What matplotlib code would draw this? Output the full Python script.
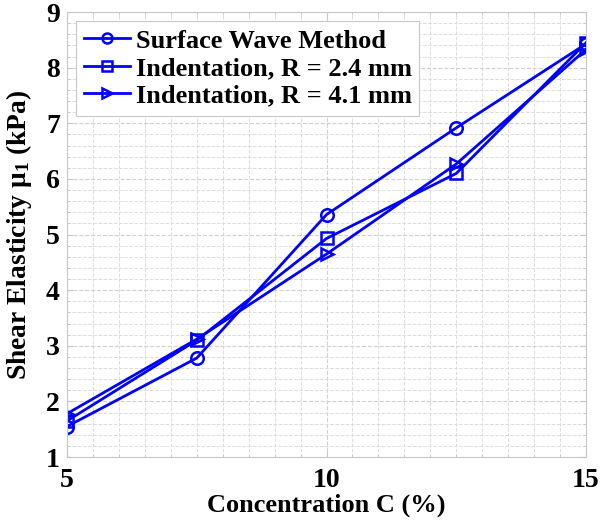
"""
Shear elasticity versus concentration: surface wave method vs indentation.
"""

import matplotlib.pyplot as plt
from matplotlib.ticker import MultipleLocator

concentration = [5, 7.5, 10, 12.5, 15]
surface_wave = [1.55, 2.78, 5.36, 6.92, 8.43]
indent_24 = [1.65, 3.10, 4.93, 6.10, 8.45]
indent_41 = [1.78, 3.12, 4.65, 6.27, 8.33]

plt.rcParams["font.family"] = ["Liberation Serif", "DejaVu Serif"]
plt.rcParams["font.weight"] = "bold"
plt.rcParams["mathtext.fontset"] = "custom"
plt.rcParams["mathtext.rm"] = "Liberation Serif:bold"
plt.rcParams["mathtext.it"] = "Liberation Serif:bold"
plt.rcParams["mathtext.bf"] = "Liberation Serif:bold"

fig = plt.figure(figsize=(6.03, 5.26), dpi=100)
ax = fig.add_axes([0.111, 0.131, 0.861, 0.846])

style = dict(color="#0000ff", linewidth=2, markersize=9,
             markerfacecolor="none", markeredgewidth=1.8)
ax.plot(concentration, surface_wave, marker="o", label="Surface Wave Method", **style)
ax.plot(concentration, indent_24, marker="s", label="Indentation, R = 2.4 mm", **style)
ax.plot(concentration, indent_41, marker=">", label="Indentation, R = 4.1 mm", **style)

ax.set_xlim(5, 15)
ax.set_ylim(1, 9)
ax.set_xticks([5, 10, 15])
ax.xaxis.set_minor_locator(MultipleLocator(0.5))
ax.yaxis.set_major_locator(MultipleLocator(1))
ax.yaxis.set_minor_locator(MultipleLocator(0.2))

ax.grid(True, which="major", color="#d0d0d0", linestyle="--", linewidth=0.8)
ax.grid(True, which="minor", color="#dcdcdc", linestyle="--", linewidth=0.7)
ax.set_axisbelow(True)
for sp in ax.spines.values():
    sp.set_color("#c8c8c8")
ax.tick_params(which="both", direction="in", colors="#c8c8c8",
               labelcolor="black", labelsize=20, top=True, right=True)
ax.tick_params(which="major", length=4)
ax.tick_params(which="minor", length=2)
ax.tick_params(axis="x", which="major", pad=8)
ax.tick_params(axis="y", which="major", pad=5)

ax.set_xlabel("Concentration C (%)", fontsize=19, fontweight="bold", labelpad=0)
ax.set_ylabel("Shear Elasticity μ$_1$ (kPa)", fontsize=19.8, fontweight="bold",
              labelpad=9)

leg = ax.legend(loc="upper left", fontsize=19, fancybox=False, framealpha=1,
                edgecolor="#c8c8c8", handlelength=1.75, borderaxespad=0.35,
                labelspacing=0.15, handletextpad=0.2, borderpad=0.3,
                markerscale=0.8)
leg.get_frame().set_linewidth(0.8)

plt.savefig("out.png", dpi=100)
